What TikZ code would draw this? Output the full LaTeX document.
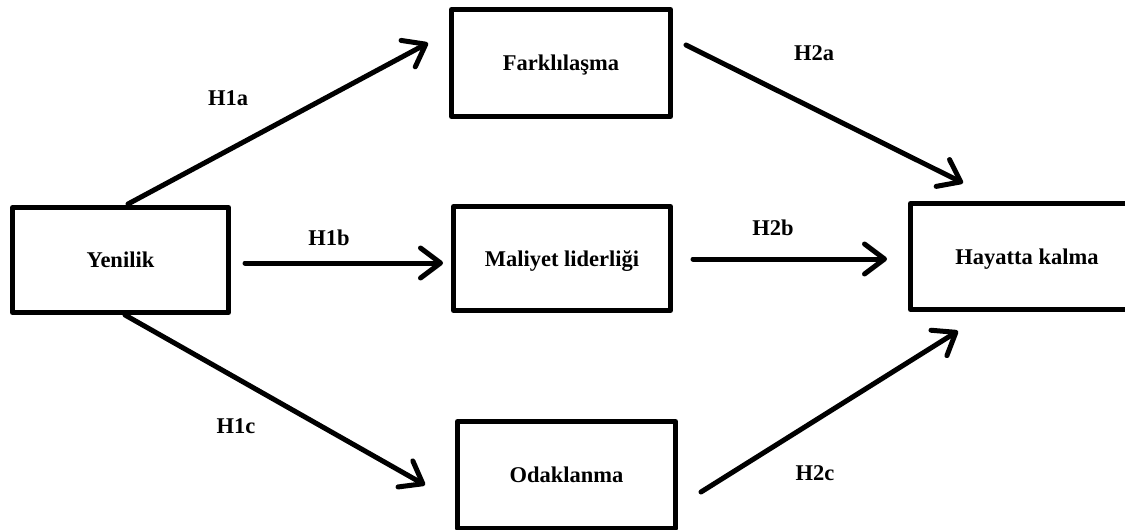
\documentclass[tikz,border=0pt]{standalone}
\usepackage{fontspec}
\setmainfont{Liberation Serif}
\usetikzlibrary{arrows.meta}
\begin{document}
\begin{tikzpicture}[x=1pt,y=-1pt,line join=round,line cap=round,>={Straight Barb[length=20pt,width=30pt,round]},line width=5pt]
	\tikzset{box/.style={draw,rectangle,inner sep=0pt,text height=15pt,text depth=0pt,font=\fontsize{22.5}{27}\selectfont\bfseries},
		lbl/.style={font=\fontsize{22.5}{27}\selectfont\bfseries}}
	\useasboundingbox (0,0) rectangle (1125,530);
	\clip (0,0) rectangle (1125,530);
	\node[box,minimum width=216pt,minimum height=105pt] (yen) at (120.5,260) {Yenilik};
	\node[box,minimum width=219pt,minimum height=107pt] (fark) at (561,63) {Farkl\i la\c sma};
	\node[box,minimum width=217pt,minimum height=104pt] (mal) at (562,258.5) {Maliyet liderli\u gi};
	\node[box,minimum width=218pt,minimum height=107pt] (odak) at (566.5,475) {Odaklanma};
	\node[box,minimum width=233pt,minimum height=106pt] (hay) at (1027,256.5) {Hayatta kalma};
	\coordinate (h1a-s) at (128,204);
	\coordinate (h1a-e) at (428,43);
	\coordinate (h1b-s) at (245,263);
	\coordinate (h1b-e) at (443,263);
	\coordinate (h1c-s) at (125,315);
	\coordinate (h1c-e) at (425,485);
	\coordinate (h2a-s) at (686,45);
	\coordinate (h2a-e) at (963,183);
	\coordinate (h2b-s) at (693,259);
	\coordinate (h2b-e) at (887,259);
	\coordinate (h2c-s) at (701,492);
	\coordinate (h2c-e) at (958,331);
	\foreach \s in {h1a,h1b,h1c,h2a,h2b,h2c}
	\draw[->] (\s-s)--(\s-e);
	\node[lbl] (l1a) at (228,98) {H1a};
	\node[lbl] (l1b) at (329,238) {H1b};
	\node[lbl] (l1c) at (236,426) {H1c};
	\node[lbl] (l2a) at (814,53) {H2a};
	\node[lbl] (l2b) at (773,228) {H2b};
	\node[lbl] (l2c) at (815,473) {H2c};
\end{tikzpicture}
\end{document}
